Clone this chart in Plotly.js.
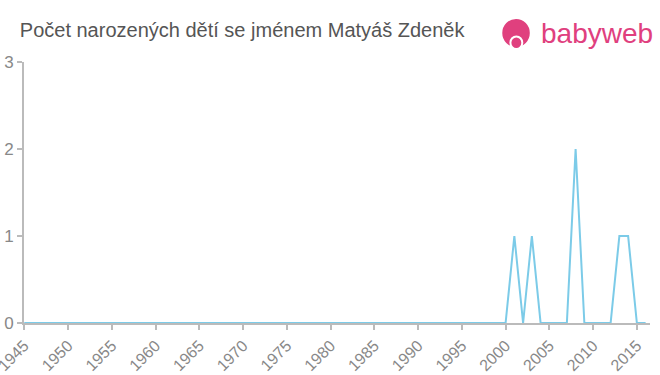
<!DOCTYPE html>
<html><head><meta charset="utf-8">
<script src="https://cdn.plot.ly/plotly-3.0.1.min.js"></script>
<style>html,body{margin:0;padding:0;background:#fff}#c{width:660px;height:375px}</style>
</head><body><div id="c"></div>
<script>
const years = [];
for (let y = 1945; y <= 2016; y++) years.push(y);
const nonZero = {2001: 1, 2003: 1, 2008: 2, 2013: 1, 2014: 1};
const counts = years.map(y => nonZero[y] || 0);
const xTicks = [1945,1950,1955,1960,1965,1970,1975,1980,1985,1990,1995,2000,2005,2010,2015];
const yTicks = [0,1,2,3];
const titleText = "Počet narozených dětí se jménem Matyáš Zdeněk";

Plotly.newPlot('c', [{
  x: years, y: counts, type: 'scatter', mode: 'lines',
  line: {color: '#7ccbe8', width: 2}, hoverinfo: 'skip'
}], {
  width: 660, height: 375,
  margin: {l: 24, r: 10, t: 62, b: 52},
  paper_bgcolor: '#fff', plot_bgcolor: '#fff',
  showlegend: false,
  title: {text: titleText, x: 0.03, xanchor: 'left', y: 0.92, yanchor: 'middle',
          font: {family: 'Arial, Liberation Sans, sans-serif', size: 20, color: '#555'}},
  xaxis: {range: [1944.97, 2016.5], tickvals: xTicks, ticktext: xTicks.map(String),
          tickangle: -45, showgrid: false, zeroline: false, ticklabeloverflow: 'allow',
          showline: true, linecolor: '#bbb', linewidth: 2,
          ticks: 'outside', ticklen: 5, tickwidth: 2, tickcolor: '#bbb',
          tickfont: {family: 'Arial, Liberation Sans, sans-serif', size: 16, color: '#888'}},
  yaxis: {range: [0, 3], tickvals: yTicks, showgrid: false, zeroline: false,
          showline: true, linecolor: '#bbb', linewidth: 2,
          ticks: 'outside', ticklen: 5, tickwidth: 2, tickcolor: '#bbb',
          tickfont: {family: 'Arial, Liberation Sans, sans-serif', size: 17, color: '#888'}},
  shapes: [
    {type: 'circle', xref: 'paper', yref: 'paper', x0: 0.764, x1: 0.808, y0: 1.057, y1: 1.165,
     fillcolor: '#e0407e', line: {width: 0}, layer: 'above'},
    {type: 'circle', xref: 'paper', yref: 'paper', x0: 0.777, x1: 0.796, y0: 1.050, y1: 1.098,
     fillcolor: '#e0407e', line: {color: '#fff', width: 2}, layer: 'above'}
  ],
  annotations: [
    {text: 'babyweb', xref: 'paper', yref: 'paper', x: 0.822, y: 1.108, xanchor: 'left', yanchor: 'middle',
     showarrow: false, font: {family: 'Arial, Liberation Sans, sans-serif', size: 28, color: '#e0407e'}}
  ]
}, {displayModeBar: false, staticPlot: true});
</script></body></html>
